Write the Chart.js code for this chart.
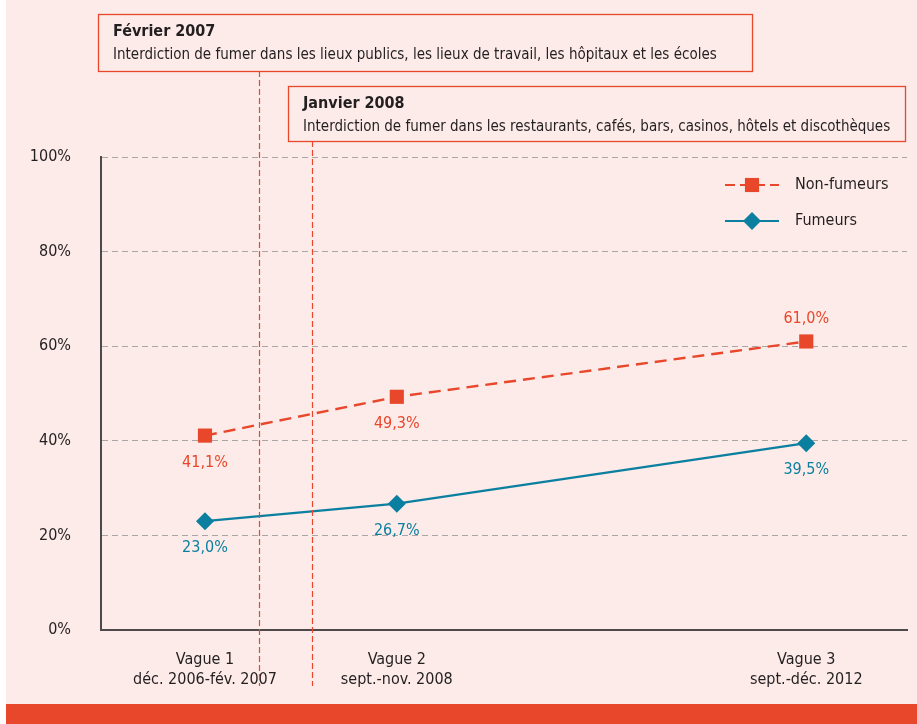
<!DOCTYPE html>
<html lang="fr">
<head>
<meta charset="utf-8">
<script src="https://cdn.jsdelivr.net/npm/chart.js@4/dist/chart.umd.min.js"></script>
<style>
  html, body { margin: 0; padding: 0; background: #fff; }
  #wrap { width: 917px; height: 724px; position: relative; }
</style>
</head>
<body>
<div id="wrap"><canvas id="chart" width="917" height="724"></canvas></div>
<script>
  const waves = [['Vague 1', 'déc. 2006-fév. 2007'], ['Vague 2', 'sept.-nov. 2008'], ['Vague 3', 'sept.-déc. 2012']];
  const wavePos = [12.9, 36.7, 87.5];
  const nonFumeurs = [41.1, 49.3, 61.0];
  const fumeurs = [23.0, 26.7, 39.5];
  const yTicks = [0, 20, 40, 60, 80, 100];
  const events = [
    { x: 19.6, title: 'Février 2007', text: 'Interdiction de fumer dans les lieux publics, les lieux de travail, les hôpitaux et les écoles' },
    { x: 26.2, title: 'Janvier 2008', text: 'Interdiction de fumer dans les restaurants, cafés, bars, casinos, hôtels et discothèques' }
  ];

  const COLORS = {
    rouge: '#e8472b',
    bleu: '#0b7fa0',
    fond: '#fcebe8',
    texte: '#231f20',
    grille: '#aaa6a6',
    axe: '#4e4a4b'
  };
  const FONT = "'Liberation Sans Narrow', 'DejaVu Sans Condensed', 'Roboto Condensed', sans-serif";

  const fmt = v => v.toFixed(1).replace('.', ',') + '%';

  const backdrop = {
    id: 'backdrop',
    beforeDraw(chart) {
      const ctx = chart.ctx;
      ctx.save();
      ctx.fillStyle = COLORS.fond;
      ctx.fillRect(6, 0, chart.width - 6, 704);
      ctx.fillStyle = COLORS.rouge;
      ctx.fillRect(6, 704, chart.width - 6, 20);
      ctx.restore();
    }
  };

  const boxes = [
    { left: 98, top: 14, right: 752, bottom: 71 },
    { left: 288, top: 86, right: 905, bottom: 141 }
  ];

  const extras = {
    id: 'extras',
    afterDraw(chart) {
      const ctx = chart.ctx;
      const xs = chart.scales.x;
      ctx.save();

      // event lines and boxes
      events.forEach((ev, i) => {
        const b = boxes[i];
        const px = Math.round(xs.getPixelForValue(ev.x)) + 0.5;
        ctx.strokeStyle = COLORS.rouge;
        ctx.lineWidth = 1.2;
        ctx.setLineDash([6, 3]);
        ctx.beginPath();
        ctx.moveTo(px, b.bottom);
        ctx.lineTo(px, 686);
        ctx.stroke();
        ctx.setLineDash([]);
        ctx.lineWidth = 1.3;
        ctx.strokeRect(b.left + 0.5, b.top + 0.5, b.right - b.left, b.bottom - b.top);
        ctx.fillStyle = COLORS.texte;
        ctx.textAlign = 'left';
        ctx.textBaseline = 'alphabetic';
        ctx.font = 'bold 16px ' + FONT;
        ctx.fillText(ev.title, b.left + 15, b.top + 22);
        ctx.font = '15px ' + FONT;
        ctx.fillText(ev.text, b.left + 15, b.top + 45);
      });

      // value labels
      ctx.font = '16px ' + FONT;
      ctx.textAlign = 'center';
      ctx.textBaseline = 'middle';
      chart.data.datasets.forEach((ds, di) => {
        chart.getDatasetMeta(di).data.forEach((pt, i) => {
          let dy = 27;
          if (di === 0 && i === 2) dy = -23;
          ctx.fillStyle = ds.borderColor;
          ctx.fillText(fmt(ds.data[i].y), pt.x, pt.y + dy);
        });
      });

      // legend
      const items = [
        { label: 'Non-fumeurs', color: COLORS.rouge, dash: [10, 5], width: 2.2, style: 'rect', r: 10, y: 185 },
        { label: 'Fumeurs', color: COLORS.bleu, dash: [], width: 2, style: 'rectRot', r: 9, y: 221 }
      ];
      items.forEach(it => {
        ctx.strokeStyle = it.color;
        ctx.lineWidth = it.width;
        ctx.setLineDash(it.dash);
        ctx.beginPath();
        ctx.moveTo(725, it.y);
        ctx.lineTo(779, it.y);
        ctx.stroke();
        ctx.setLineDash([]);
        ctx.fillStyle = it.color;
        Chart.helpers.drawPoint(ctx, { pointStyle: it.style, radius: it.r, borderWidth: 0 }, 752, it.y);
        ctx.fillStyle = COLORS.texte;
        ctx.font = '16px ' + FONT;
        ctx.textAlign = 'left';
        ctx.textBaseline = 'middle';
        ctx.fillText(it.label, 795, it.y);
      });
      ctx.restore();
    }
  };

  const toPoints = vals => vals.map((v, i) => ({ x: wavePos[i], y: v }));

  new Chart(document.getElementById('chart'), {
    type: 'line',
    data: {
      datasets: [
        {
          label: 'Non-fumeurs',
          data: toPoints(nonFumeurs),
          borderColor: COLORS.rouge,
          backgroundColor: COLORS.rouge,
          borderWidth: 2.4,
          borderDash: [12, 7],
          pointStyle: 'rect',
          pointRadius: 10,
          pointBorderWidth: 0,
          tension: 0
        },
        {
          label: 'Fumeurs',
          data: toPoints(fumeurs),
          borderColor: COLORS.bleu,
          backgroundColor: COLORS.bleu,
          borderWidth: 2.2,
          pointStyle: 'rectRot',
          pointRadius: 9,
          pointBorderWidth: 0,
          tension: 0
        }
      ]
    },
    options: {
      responsive: false,
      animation: false,
      events: [],
      layout: { padding: { left: 0, right: 10, top: 157, bottom: 0 } },
      plugins: { legend: { display: false }, tooltip: { enabled: false } },
      scales: {
        x: {
          type: 'linear',
          min: 0,
          max: 100,
          afterFit(scale) { scale.height = 94; },
          afterBuildTicks(scale) { scale.ticks = wavePos.map(v => ({ value: v })); },
          grid: { display: false },
          border: { display: true, color: COLORS.axe, width: 2 },
          ticks: {
            autoSkip: false,
            maxRotation: 0,
            padding: 12,
            color: COLORS.texte,
            font: { family: FONT, size: 16, lineHeight: 1.25 },
            callback: (v, i) => waves[i]
          }
        },
        y: {
          min: 0,
          max: 100,
          afterFit(scale) { scale.width = 101; },
          afterBuildTicks(scale) { scale.ticks = yTicks.map(v => ({ value: v })); },
          grid: { color: COLORS.grille, lineWidth: 1, drawTicks: false },
          border: { display: true, color: COLORS.axe, width: 2, dash: [6, 4] },
          ticks: {
            padding: 30,
            color: COLORS.texte,
            font: { family: FONT, size: 16 },
            callback: v => v + '%'
          }
        }
      }
    },
    plugins: [backdrop, extras]
  });
</script>
</body>
</html>
